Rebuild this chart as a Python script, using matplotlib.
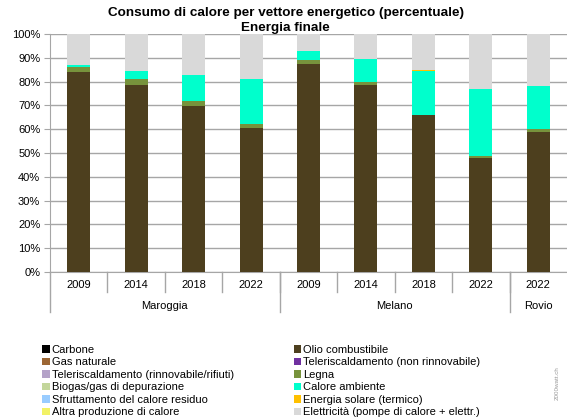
import matplotlib.pyplot as plt
import numpy as np
from matplotlib.transforms import blended_transform_factory

plt.rcParams['font.family'] = ['Liberation Sans', 'DejaVu Sans']

# Data (percent of final energy for heat)
years = ['2009', '2014', '2018', '2022', '2009', '2014', '2018', '2022', '2022']
groups = ['Maroggia', 'Melano', 'Rovio']
group_sizes = [4, 4, 1]

carbone = [0, 0, 0, 0, 0, 0, 0, 0, 0]
olio = [84.1, 78.7, 69.8, 60.6, 87.5, 78.7, 65.8, 47.7, 58.9]
gas = [0, 0, 0, 0, 0, 0, 0, 0, 0]
tele_nonrinn = [0, 0, 0, 0, 0, 0, 0, 0, 0]
tele_rinn = [0, 0, 0, 0, 0, 0, 0, 0, 0]
legna = [2.2, 2.5, 2.2, 1.5, 1.6, 1.1, 0.3, 1.0, 1.3]
biogas = [0, 0, 0, 0, 0, 0, 0, 0, 0]
ambiente = [0.7, 3.2, 10.7, 19.0, 3.9, 9.8, 18.5, 28.0, 18.1]
residuo = [0, 0, 0, 0, 0, 0, 0, 0, 0]
solare = [0, 0, 0, 0, 0, 0, 0.3, 0.3, 0]
altra = [0, 0, 0, 0, 0, 0, 0, 0, 0]
elettricita = [13.0, 15.6, 17.3, 18.9, 7.0, 10.4, 15.1, 23.0, 21.7]

series = [
    ('Carbone', carbone, '#000000'),
    ('Olio combustibile', olio, '#4d3f1e'),
    ('Gas naturale', gas, '#9c6634'),
    ('Teleriscaldamento (non rinnovabile)', tele_nonrinn, '#7030a0'),
    ('Teleriscaldamento (rinnovabile/rifiuti)', tele_rinn, '#b4a2c8'),
    ('Legna', legna, '#77933c'),
    ('Biogas/gas di depurazione', biogas, '#c3d69b'),
    ('Calore ambiente', ambiente, '#00ffcc'),
    ('Sfruttamento del calore residuo', residuo, '#99ccff'),
    ('Energia solare (termico)', solare, '#ffc000'),
    ('Altra produzione di calore', altra, '#f2f266'),
    ('Elettricità (pompe di calore + elettr.)', elettricita, '#d9d9d9'),
]

fig = plt.figure(figsize=(5.67, 4.19), dpi=100)
ax = fig.add_axes([0.0882, 0.3508, 0.9118, 0.5681])

x = np.arange(len(years))
bottom = np.zeros(len(years))
handles = []
for name, vals, col in series:
    b = ax.bar(x, vals, 0.4, bottom=bottom, color=col, label=name, zorder=3)
    handles.append(b)
    bottom += np.array(vals)

ax.set_xlim(-0.5, len(years) - 0.5)
ax.set_ylim(0, 100)
ax.set_yticks(np.arange(0, 101, 10))
ax.set_yticklabels([f'{v}%' for v in range(0, 101, 10)], fontsize=8)
ax.yaxis.grid(True, color='#a6a6a6', linewidth=1.0, zorder=0)
ax.tick_params(axis='y', length=4, color='#a6a6a6', pad=3)
ax.set_xticks([])
for s in ['top', 'right']:
    ax.spines[s].set_visible(False)
ax.spines['left'].set_color('#a6a6a6')
ax.spines['bottom'].set_color('#a6a6a6')

# two-level category axis
trans = blended_transform_factory(ax.transData, ax.transAxes)
px = 1.0 / (0.5681 * 419)  # one pixel in axes fraction (vertical)
for i, yr in enumerate(years):
    ax.text(i, -13 * px, yr, transform=trans, ha='center', va='center', fontsize=8)
for i in range(1, len(years)):
    ax.plot([i - 0.5, i - 0.5], [0, -20 * px], transform=trans, color='#a6a6a6',
            lw=1, clip_on=False)
start = 0
edges = [-0.5]
for g, n in zip(groups, group_sizes):
    ax.text(start + (n - 1) / 2, -34 * px, g, transform=trans, ha='center', va='center',
            fontsize=8)
    start += n
    edges.append(start - 0.5)
for e in edges[:-1]:
    ax.plot([e, e], [0, -40 * px], transform=trans, color='#a6a6a6', lw=1, clip_on=False)

fig.text(0.504, 0.968, 'Consumo di calore per vettore energetico (percentuale)',
         ha='center', va='center', fontsize=9.7, fontweight='bold')
fig.text(0.504, 0.934, 'Energia finale', ha='center', va='center', fontsize=9.7,
         fontweight='bold')

# legend filled row by row like the original
order = [0, 2, 4, 6, 8, 10, 1, 3, 5, 7, 9, 11]
fig.legend(handles=[handles[i] for i in order], loc='upper left',
           bbox_to_anchor=(0.065, 0.19), ncol=2,
           frameon=False, fontsize=8, handlelength=0.65, handleheight=0.65,
           handletextpad=0.2, labelspacing=0.22, columnspacing=5.4, borderpad=0)

fig.text(0.982, 0.086, '2000watt.ch', rotation=90, fontsize=4.5, color='#999999',
         ha='center', va='center')

fig.savefig('out.png', dpi=100)
